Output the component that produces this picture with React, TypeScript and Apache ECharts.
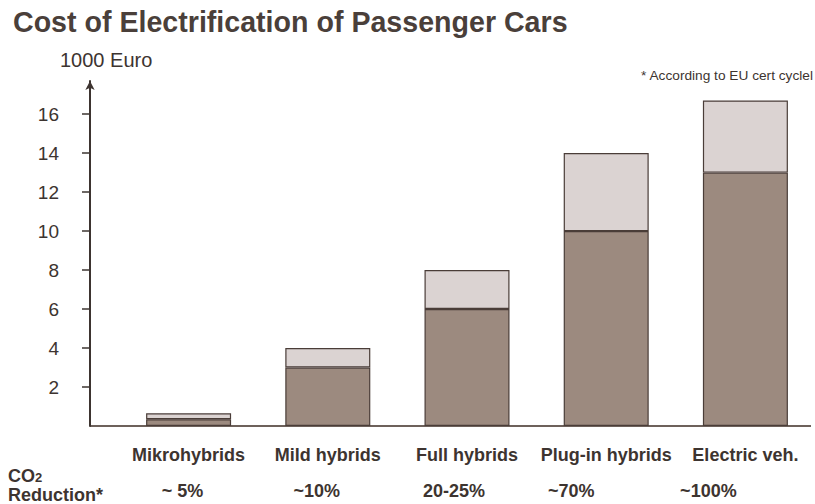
import React, { useEffect, useRef } from 'react';
import * as echarts from 'echarts';

const categories = ['Mikrohybrids', 'Mild hybrids', 'Full hybrids', 'Plug-in hybrids', 'Electric veh.'];
const baseCost = [0.35, 3, 6, 10, 13];
const extraCost = [0.3, 1, 2, 4, 3.7];
const yTicks = [2, 4, 6, 8, 10, 12, 14, 16];
const co2Reduction = ['~ 5%', '~10%', '20-25%', '~70%', '~100%'];

export default function App() {
  const ref = useRef<HTMLDivElement>(null);
  useEffect(() => {
    document.body.style.margin = '0';
    const chart = echarts.init(ref.current!, null, { renderer: 'svg' });
    const text = '#3d3430';
    const ff = '"Liberation Sans", Arial, sans-serif';
    const border = '#4a3d38';
    chart.setOption({
      animation: false,
      backgroundColor: '#ffffff',
      title: {
        text: 'Cost of Electrification of Passenger Cars',
        left: 8,
        top: 2,
        textStyle: { fontSize: 28.6, fontWeight: 'bold', color: '#4a3f3a', fontFamily: ff },
      },
      grid: { left: 119, top: 81, width: 700, height: 345 },
      xAxis: {
        type: 'category',
        data: categories,
        axisLine: { show: false },
        axisTick: { show: false },
        axisLabel: { interval: 0, margin: 20, fontSize: 18, fontWeight: 'bold', color: text, fontFamily: ff },
      },
      yAxis: {
        type: 'value',
        min: 0,
        max: 17.7,
        interval: 2,
        offset: 29,
        splitLine: { show: false },
        axisLine: {
          show: true,
          symbol: ['none', 'arrow'],
          symbolSize: [7, 9],
          lineStyle: { color: text, width: 2 },
        },
        axisTick: { show: true, customValues: yTicks, length: 8, lineStyle: { color: text, width: 1.5 } },
        axisLabel: { customValues: yTicks, margin: 31, fontSize: 19, color: text, fontFamily: ff },
      },
      series: [
        {
          type: 'bar',
          stack: 'cost',
          data: baseCost,
          barWidth: 85,
          itemStyle: { color: '#9c8a7f', borderColor: border, borderWidth: 1.2 },
        },
        {
          type: 'bar',
          stack: 'cost',
          data: extraCost,
          barWidth: 85,
          itemStyle: { color: '#dbd3d2', borderColor: border, borderWidth: 1.2 },
        },
      ],
    });
    const shift = [-6, -11, -13, -35, -37];
    const redTexts = co2Reduction.map((t, i) => ({
      type: 'text',
      x: (chart.convertToPixel({ xAxisIndex: 0 }, i) as number) + shift[i],
      y: 491,
      style: {
        text: t,
        fill: text,
        fontSize: 18,
        fontWeight: 'bold',
        fontFamily: ff,
        align: 'center',
        verticalAlign: 'middle',
        textAlign: 'center',
        textVerticalAlign: 'middle',
      },
    }));
    chart.setOption({
      graphic: [
        {
          type: 'line',
          z: 0,
          shape: { x1: 90, y1: 426, x2: 811, y2: 426 },
          style: { stroke: '#6d615b', lineWidth: 2 },
        },
        {
          type: 'text',
          x: 60,
          y: 60,
          style: { text: '1000 Euro', fill: text, fontSize: 20, fontFamily: ff, verticalAlign: 'middle', textVerticalAlign: 'middle' },
        },
        {
          type: 'text',
          x: 813,
          y: 75,
          style: { text: '* According to EU cert cyclel', fill: text, fontSize: 13.7, fontFamily: ff, align: 'right', textAlign: 'right', verticalAlign: 'middle', textVerticalAlign: 'middle' },
        },
        {
          type: 'text',
          x: 8,
          y: 476,
          style: {
            text: '{a|CO}{b|2}',
            fill: text,
            fontFamily: ff,
            verticalAlign: 'middle',
            textVerticalAlign: 'middle',
            rich: {
              a: { fontSize: 18, fontWeight: 'bold', fill: text, color: text, fontFamily: ff, lineHeight: 16 },
              b: { fontSize: 13, fontWeight: 'bold', fill: text, color: text, fontFamily: ff, lineHeight: 11, verticalAlign: 'bottom', padding: [9, 0, 0, 0] },
            },
          },
        },
        {
          type: 'text',
          x: 8,
          y: 495,
          style: { text: 'Reduction*', fill: text, fontSize: 18, fontWeight: 'bold', fontFamily: ff, verticalAlign: 'middle', textVerticalAlign: 'middle' },
        },
        ...redTexts,
      ],
    });
    return () => chart.dispose();
  }, []);
  return <div ref={ref} style={{ width: 815, height: 504 }} />;
}
